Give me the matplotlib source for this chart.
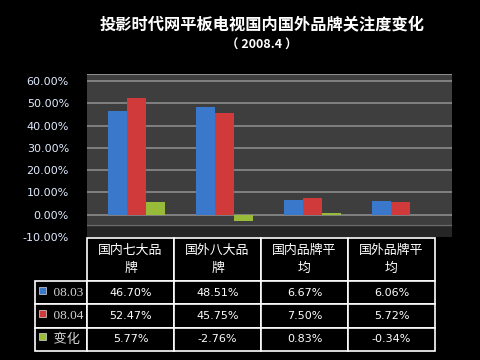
import matplotlib
matplotlib.use("Agg")
from matplotlib import pyplot as plt
from matplotlib.patches import Rectangle
import numpy as np

plt.rcParams['font.family'] = ['Noto Sans CJK SC', 'DejaVu Sans']

# data
categories = ["国内七大品\n牌", "国外八大品\n牌", "国内品牌平\n均", "国外品牌平\n均"]
series_names = ["08.03", "08.04", "变化"]
v_0803 = [46.70, 48.51, 6.67, 6.06]
v_0804 = [52.47, 45.75, 7.50, 5.72]
v_change = [5.77, -2.76, 0.83, -0.34]
series_colors = ["#3a78cc", "#d03a3a", "#98bc3a"]
yticks = [-10, 0, 10, 20, 30, 40, 50, 60]

W, H = 481, 360
fig = plt.figure(figsize=(W / 100, H / 100), dpi=100, facecolor="black")

def fx(px):
    return px / W

def fy(py):
    return 1 - py / H

# title
fig.text(fx(262), fy(25), "投影时代网平板电视国内国外品牌关注度变化", color="white",
         fontsize=11.7, fontweight="bold", ha="center", va="center")
fig.text(fx(262), fy(45), "（ 2008.4 ）", color="white", fontsize=9,
         fontweight="bold", ha="center", va="center")

# chart
ax = fig.add_axes([fx(87), fy(237), fx(452) - fx(87), fy(74) - fy(237)])
ax.set_facecolor("#3e3e3e")
x = np.arange(len(categories))
bw = 0.215
all_vals = [v_0803, v_0804, v_change]
for i, vals in enumerate(all_vals):
    ax.bar(x + (i - 1) * bw, vals, width=bw, color=series_colors[i],
           edgecolor="none", zorder=3)
ax.set_xlim(-0.56, 3.59)
ax.set_ylim(-10, 63.2)
ax.set_yticks(yticks)
ax.set_yticklabels(["%.2f%%" % t for t in yticks], color="#e0ecff",
                   fontsize=8, family="DejaVu Sans")
ax.tick_params(axis="y", length=0, pad=13)
ax.set_xticks([])
for t in yticks[1:]:
    ax.axhline(t, color="#8c8c8c", lw=1.2, zorder=1)
ax.axhspan(-10, -4.5, color="#262626", zorder=0)
ax.axhline(-4.5, color="#6a6a6a", lw=1, zorder=1)
ax.axhline(63.2, color="#8c8c8c", lw=1.5, zorder=1)
for s in ax.spines.values():
    s.set_visible(False)

# data table
tax = fig.add_axes([fx(35), fy(351), fx(435) - fx(35), fy(238) - fy(351)])
tax.axis("off")
cell_text = [[""] + categories]
for name, vals in zip(series_names, all_vals):
    cell_text.append(["    " + name] + ["%.2f%%" % v for v in vals])
col_w = [52, 87, 87, 87, 87]
tbl = tax.table(cellText=cell_text, colWidths=[c / 400 for c in col_w],
                cellLoc="center", bbox=[0, 0, 1, 1])
tbl.auto_set_font_size(False)
row_h = [43, 23, 24, 23]
for (r, c), cell in tbl.get_celld().items():
    cell.set_facecolor("black")
    cell.set_edgecolor("white")
    cell.set_linewidth(1.2)
    cell.set_height(row_h[r] / 113)
    txt = cell.get_text()
    txt.set_color("white")
    if r == 0:
        txt.set_fontsize(9.3)
        txt.set_linespacing(1.5)
        if c == 0:
            cell.visible_edges = ""
    elif c == 0:
        txt.set_fontsize(9.5)
        txt.set_color("#d4d4d4")
        txt.set_family(["Liberation Serif", "Noto Sans CJK SC"])
        cell._loc = "left"
        txt.set_ha("left")
    else:
        txt.set_fontsize(8)
        txt.set_family("DejaVu Sans")

# legend keys in the table
for i, col in enumerate(series_colors):
    yc = 1 - (43 + 23 * i + 9) / 113
    tax.add_patch(Rectangle((4 / 400, yc - 3.5 / 113), 7 / 400, 7 / 113,
                            transform=tax.transAxes, facecolor=col,
                            edgecolor="#dddddd", lw=0.5, clip_on=False))

fig.savefig("out.png", dpi=100, facecolor="black")
